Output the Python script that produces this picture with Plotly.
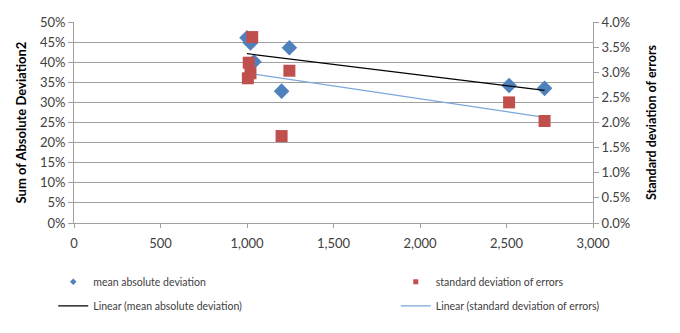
import numpy as np
import plotly.graph_objects as go

# data
mad_x = [1000, 1020, 1040, 1245, 1200, 2515, 2720]
mad_y = [0.4606, 0.448, 0.401, 0.436, 0.328, 0.342, 0.335]
sde_x = [1030, 1010, 1020, 1005, 1245, 1200, 2515, 2720]
sde_y = [0.0370, 0.0319, 0.0298, 0.0288, 0.0303, 0.0173, 0.0240, 0.0203]

x_ticks = [0, 500, 1000, 1500, 2000, 2500, 3000]

FONT = "Lato"
TXT = "#404040"
GRID = "#a0a0a0"
BLUE = "#4F81BD"
RED = "#C0504D"
LBLUE = "#7BA7D9"


def trend(xs, ys):
    xs = np.array(xs, float)
    ys = np.array(ys, float)
    m, b = np.polyfit(xs, ys, 1)
    xx = np.array([xs.min(), xs.max()])
    return xx, m * xx + b


tx1, ty1 = trend(mad_x, mad_y)
tx2, ty2 = trend(sde_x, sde_y)

fig = go.Figure()
# data marks
fig.add_trace(go.Scatter(x=mad_x, y=mad_y, mode="markers", showlegend=False,
                         marker=dict(symbol="diamond", size=12, color=BLUE)))
fig.add_trace(go.Scatter(x=tx1, y=ty1, mode="lines", showlegend=False,
                         line=dict(color="black", width=1.2)))
fig.add_trace(go.Scatter(x=tx2, y=ty2, mode="lines", showlegend=False,
                         line=dict(color=LBLUE, width=1.2), yaxis="y2"))
fig.add_trace(go.Scatter(x=sde_x, y=sde_y, mode="markers", showlegend=False,
                         marker=dict(symbol="square", size=12, color=RED), yaxis="y2"))

# legend entries (small symbols as in the reference), one legend per slot
fig.add_trace(go.Scatter(x=[None], y=[None], mode="markers", name="mean absolute deviation",
                         marker=dict(symbol="diamond", size=5, color=BLUE), legend="legend"))
fig.add_trace(go.Scatter(x=[None], y=[None], mode="markers", name="standard deviation of errors",
                         marker=dict(symbol="square", size=5, color=RED), legend="legend2"))
fig.add_trace(go.Scatter(x=[None], y=[None], mode="lines", name="Linear (mean absolute deviation)",
                         line=dict(color="black", width=1.2), legend="legend3"))
fig.add_trace(go.Scatter(x=[None], y=[None], mode="lines", name="Linear (standard deviation of errors)",
                         line=dict(color=LBLUE, width=1.2), legend="legend4"))

lc = dict(orientation="v", yanchor="top", xanchor="left",
          font=dict(family=FONT, size=10.5, color=TXT), bgcolor="rgba(0,0,0,0)",
          itemwidth=30)

fig.update_layout(
    width=680, height=333,
    margin=dict(l=74, r=87, t=22, b=108),
    paper_bgcolor="white", plot_bgcolor="white",
    font=dict(family=FONT, color=TXT),
    showlegend=True,
    legend=dict(x=-0.04, y=-0.22, **lc),
    legend2=dict(x=0.62, y=-0.22, **lc),
    legend3=dict(x=-0.04, y=-0.34, **lc),
    legend4=dict(x=0.62, y=-0.34, **lc),
    xaxis=dict(range=[0, 3000], tickvals=x_ticks, tickformat=",d", showgrid=False,
               showline=True, linecolor=GRID, linewidth=1, ticks="outside", ticklen=4,
               tickcolor=GRID, tickfont=dict(size=13, color=TXT), zeroline=False,
               ticklabelstandoff=4),
    yaxis=dict(range=[0, 0.5], dtick=0.05, tickformat=".0%", showgrid=True, gridcolor=GRID,
               showline=True, linecolor=GRID, ticks="outside", ticklen=5, tickcolor=GRID,
               tickfont=dict(size=13, color=TXT), zeroline=False,
               title=dict(text="<b>Sum of Absolute Deviation2</b>", standoff=10,
                          font=dict(size=13, color="#000"))),
    yaxis2=dict(range=[0, 0.04], dtick=0.005, tickformat=".1%", overlaying="y", side="right",
                showgrid=False, showline=True, linecolor=GRID, ticks="outside", ticklen=5,
                tickcolor=GRID, tickfont=dict(size=13, color=TXT), zeroline=False,
                title=dict(text="<b>Standard deviation of errors</b>", standoff=18,
                           font=dict(size=12.5, color="#000"))),
)

fig.write_html("out.html")
